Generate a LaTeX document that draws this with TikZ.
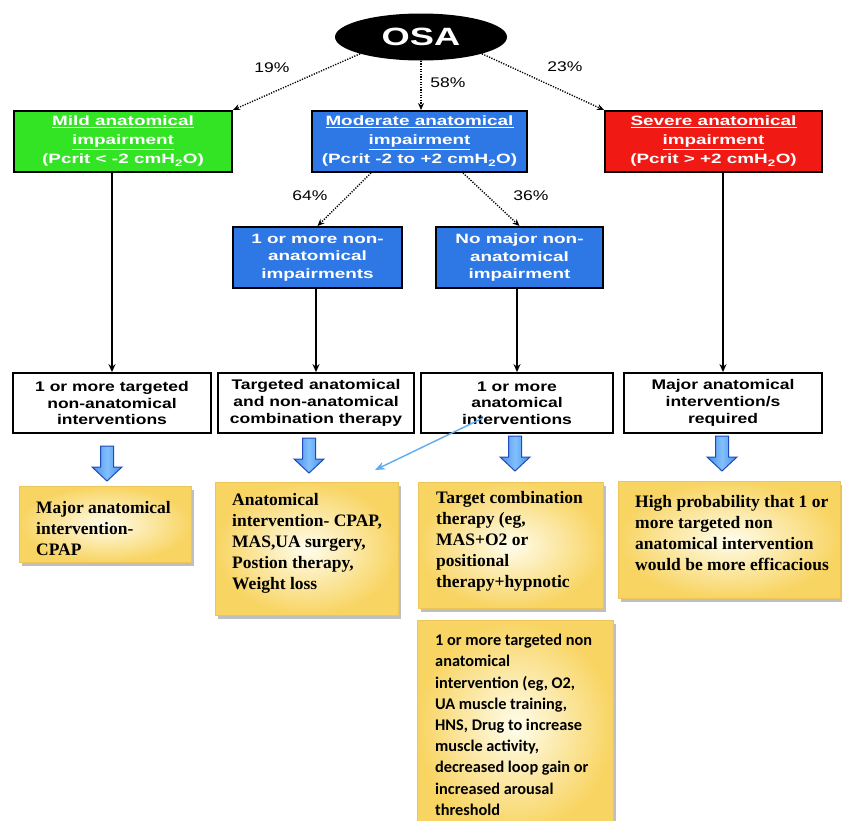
\documentclass[tikz,border=0pt]{standalone}
\usepackage{fontspec}
\setmainfont{Liberation Sans}
\newfontfamily\sansW[FakeStretch=1.4]{Liberation Sans}
\newfontfamily\sansM[FakeStretch=1.25]{Liberation Sans}
\newfontfamily\osaF[FakeStretch=1.45]{Liberation Sans}
\newfontfamily\serifB{Liberation Serif}
\newfontfamily\calB{Carlito}
\usetikzlibrary{shapes.geometric,arrows.meta,shadows,calc}

\definecolor{osagreen}{RGB}{50,228,35}
\definecolor{osablue}{RGB}{45,120,228}
\definecolor{osared}{RGB}{240,25,20}
\definecolor{ylight}{RGB}{255,253,236}
\definecolor{ydark}{RGB}{248,212,98}
\definecolor{yedge}{RGB}{236,198,90}
\definecolor{arrlight}{RGB}{130,192,252}
\definecolor{arrmid}{RGB}{70,140,235}
\definecolor{arrdark}{RGB}{30,75,185}
\definecolor{thinblue}{RGB}{95,172,240}

\begin{document}
\begin{tikzpicture}[x=1pt,y=-1pt,
  hdbox/.style={draw=black, line width=2pt, minimum height=61pt, inner sep=2pt,
    align=center, text=white, font=\sansW\bfseries\fontsize{13.5}{19}\selectfont},
  subbox/.style={hdbox, fill=osablue, font=\sansW\bfseries\fontsize{13.5}{17.5}\selectfont},
  outbox/.style={draw=black, line width=1.8pt, fill=white, minimum height=60pt,
    inner sep=2pt, align=center, font=\sansM\bfseries\fontsize{14}{16.7}\selectfont},
  ybox/.style={draw=yedge, line width=0.5pt, inner color=ylight, outer color=ydark,
    drop shadow={shadow xshift=3pt, shadow yshift=-4pt, fill=black!45, opacity=0.55},
    inner sep=0pt, anchor=north west},
  ytext/.style={anchor=north west, inner sep=0pt, align=left,
    font=\serifB\bfseries\fontsize{17.5}{21}\selectfont},
  dotarrow/.style={line width=1.4pt, dash pattern=on 1.2pt off 1.4pt,
    -{Stealth[length=7pt,width=6pt]}},
  solidarrow/.style={line width=2pt, -{Stealth[length=8pt,width=7pt]}},
  pct/.style={font=\sansM\fontsize{14}{14}\selectfont, inner sep=0pt},
  barrow/.style={draw=arrdark, line width=1pt, left color=arrmid,
    right color=arrmid, middle color=arrlight},
  blockarr/.pic={\draw[barrow] (-6.5,0) -- (-6.5,21) -- (-15,21) -- (0,35)
    -- (15,21) -- (6.5,21) -- (6.5,0) -- cycle;},
  thinarrow/.style={draw=thinblue, line width=1.4pt, -{Stealth[length=10pt,width=8pt]}},
]
\fill[white] (0,0) rectangle (842,820);
\useasboundingbox (0,0) rectangle (842,820);

% top ellipse
\node[ellipse, fill=black, minimum width=172pt, minimum height=47pt, inner sep=0pt,
  text=white, font=\osaF\bfseries\fontsize{25}{25}\selectfont] (osa) at (421,37) {OSA};

% first level
\node[hdbox, fill=osagreen, minimum width=218pt] (mild) at (123,141.5)
  {\underline{Mild anatomical}\\\underline{impairment}\\(Pcrit < -2 cmH\textsubscript{2}O)};
\node[hdbox, fill=osablue, minimum width=215pt] (moderate) at (419.5,141.5)
  {\underline{Moderate anatomical}\\\underline{impairment}\\(Pcrit -2 to +2 cmH\textsubscript{2}O)};
\node[hdbox, fill=osared, minimum width=217pt] (severe) at (713.5,141.5)
  {\underline{Severe anatomical}\\\underline{impairment}\\(Pcrit > +2 cmH\textsubscript{2}O)};

% second level
\node[subbox, minimum width=169pt] (sub1) at (317.5,257.5)
  {1 or more non-\\anatomical\\impairments};
\node[subbox, minimum width=167pt] (sub2) at (519.5,257.5)
  {No major non-\\anatomical\\impairment};

% outcome boxes
\node[outbox, minimum width=198pt] (b1) at (112,403)
  {1 or more targeted\\non-anatomical\\interventions};
\node[outbox, minimum width=196pt] (b2) at (316,403)
  {Targeted anatomical\\and non-anatomical\\combination therapy};
\node[outbox, minimum width=192pt] (b3) at (517,403)
  {1 or more\\anatomical\\interventions};
\node[outbox, minimum width=198pt] (b4) at (723,403)
  {Major anatomical\\intervention/s\\required};

% dotted connectors
\draw[dotarrow] (osa.south west) -- (mild.north east);
\draw[dotarrow] (osa.south) -- (osa.south |- moderate.north);
\draw[dotarrow] (osa.south east) -- (severe.north west);
\coordinate (mdl) at ($(moderate.south west)+(60,0)$);
\coordinate (mdr) at ($(moderate.south east)+(-65,0)$);
\draw[dotarrow] (mdl) -- (sub1.north);
\draw[dotarrow] (mdr) -- (sub2.north);

\node[pct] (p19) at (272,68) {19\%};
\node[pct] (p58) at (448,83) {58\%};
\node[pct] (p23) at (565,67) {23\%};
\node[pct] (p64) at (310,196) {64\%};
\node[pct] (p36) at (531,196) {36\%};

% solid connectors
\draw[solidarrow] (mild.south -| b1.north) -- (b1.north);
\draw[solidarrow] (sub1.south -| b2.north) -- (b2.north);
\draw[solidarrow] (sub2.south -| b3.north) -- (b3.north);
\draw[solidarrow] (severe.south -| b4.north) -- (b4.north);

% yellow boxes
\node[ybox, minimum width=172pt, minimum height=76pt] (ya) at (19,486) {};
\node[ybox, minimum width=183pt, minimum height=133pt] (yb) at (215,482) {};
\node[ybox, minimum width=185pt, minimum height=126pt] (yc) at (418,482) {};
\node[ybox, minimum width=222pt, minimum height=117pt] (yd) at (618,481) {};
\node[ybox, minimum width=196pt, minimum height=212pt] (ye) at (417,620) {};

\node[ytext] (yat) at (36,501) {Major anatomical\\intervention-\\CPAP};
\node[ytext] (ybt) at (232,493) {Anatomical\\intervention- CPAP,\\MAS,UA surgery,\\Postion therapy,\\Weight loss};
\node[ytext] (yct) at (436,491) {Target combination\\therapy (eg,\\MAS+O2 or\\positional\\therapy+hypnotic};
\node[ytext] (ydt) at (635,495) {High probability that 1 or\\more targeted non\\anatomical intervention\\would be more efficacious};
\node[anchor=north west, inner sep=0pt, align=left,
  font=\calB\bfseries\fontsize{16.3}{21.2}\selectfont] (yet) at (435,634)
  {1 or more targeted non\\anatomical\\intervention (eg, O2,\\UA muscle training,\\HNS, Drug to increase\\muscle activity,\\decreased loop gain or\\increased arousal\\threshold};

% block arrows
\pic at (107,446) {blockarr};
\pic at (309,438) {blockarr};
\pic at (515,436) {blockarr};
\pic at (722,436) {blockarr};

% thin blue arrow
\coordinate (lbs) at (483,418);
\coordinate (lbe) at (375,470);
\draw[thinarrow] (lbs) -- (lbe);
\end{tikzpicture}
\end{document}
